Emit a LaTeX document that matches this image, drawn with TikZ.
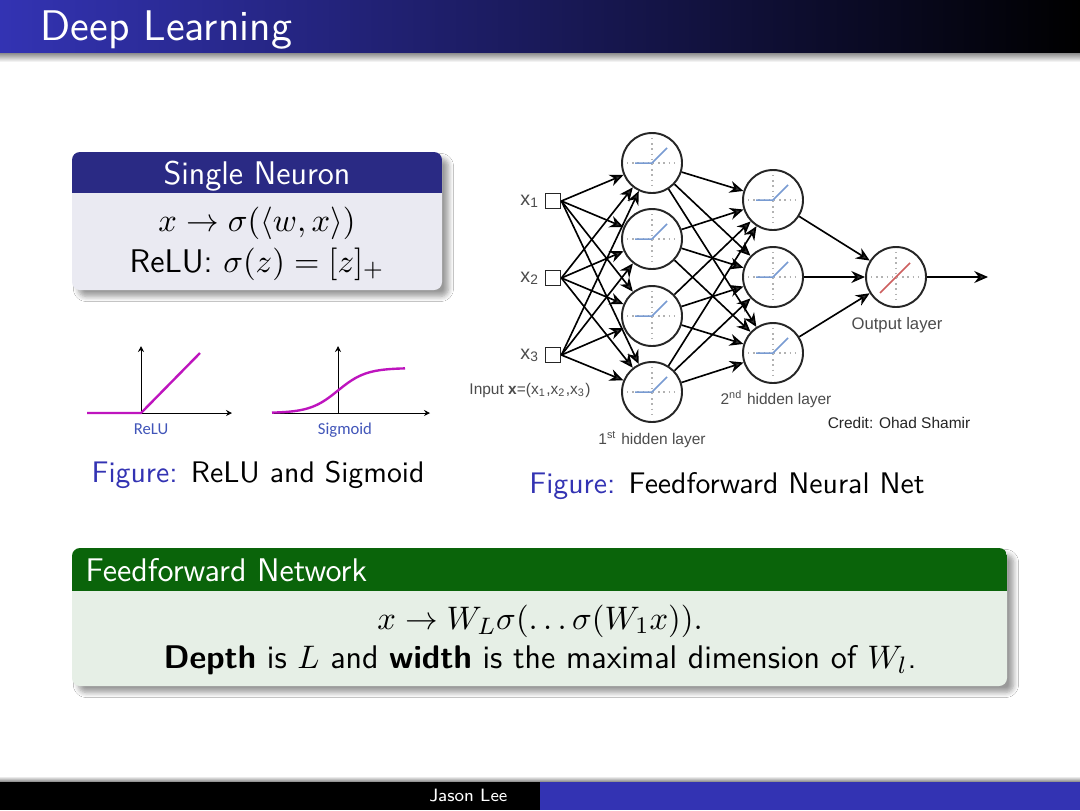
\documentclass[tikz,border=0pt]{standalone}
\usepackage{fontspec}
\newfontfamily\nnfont{Liberation Sans}
\newfontfamily\plotfont{Carlito}
\usetikzlibrary{arrows.meta, positioning, shadows.blur}

% one pixel of the slide
\newlength\pxu
\setlength\pxu{0.3359pt}

\definecolor{structblue}{RGB}{51,51,179}
\definecolor{neurontitle}{RGB}{42,42,132}
\definecolor{neuronbody}{RGB}{234,234,242}
\definecolor{ffntitle}{RGB}{10,100,10}
\definecolor{ffnbody}{RGB}{230,239,230}
\definecolor{plotpink}{RGB}{190,20,190}
\definecolor{plotblue}{RGB}{65,85,185}
\definecolor{relublue}{RGB}{120,155,210}
\definecolor{linred}{RGB}{205,95,95}

\begin{document}
\begin{tikzpicture}[
    x=\pxu, y=-\pxu,
    % Define node styles
    slidetitle/.style={anchor=base west, inner sep=0pt, text=white, font=\sffamily\fontsize{14.4}{17}\selectfont},
    footer/.style={anchor=base east, inner sep=0pt, text=white, font=\sffamily\fontsize{6}{7}\selectfont},
    blocktitle/.style={anchor=base, inner sep=0pt, text=white, font=\sffamily\fontsize{11}{13.6}\selectfont},
    blocktext/.style={anchor=base, inner sep=0pt, font=\sffamily\fontsize{11}{13.6}\selectfont},
    figcaption/.style={anchor=base, inner sep=0pt, font=\sffamily\fontsize{10}{12}\selectfont},
    plotlabel/.style={anchor=base, inner sep=0pt, text=plotblue, font=\plotfont\fontsize{5.6}{6.5}\selectfont},
    nnlabel/.style={anchor=base, inner sep=0pt, text=black!70, font=\nnfont\fontsize{5.2}{6}\selectfont},
    dotgrid/.style={gray!60, line width=0.45pt, dash pattern=on 0.45pt off 1.3pt},
    neuron/.style={circle, draw=black!85, line width=0.65pt, minimum size=60\pxu, inner sep=0pt},
    hiddenunit/.style={neuron, path picture={
        \begin{scope}[shift={(path picture bounding box.center)}]
            \draw[dotgrid] (-25,0) -- (25,0);
            \draw[dotgrid] (0,-25) -- (0,25);
            \draw[relublue, line width=0.5pt] (-17,0) -- (0,0) -- (15,-15);
        \end{scope}}},
    outunit/.style={neuron, path picture={
        \begin{scope}[shift={(path picture bounding box.center)}]
            \draw[dotgrid] (-25,0) -- (25,0);
            \draw[dotgrid] (0,-25) -- (0,25);
            \draw[linred, line width=0.5pt] (-16,16) -- (14,-14);
        \end{scope}}},
    inbox/.style={rectangle, draw=black!85, line width=0.6pt, minimum size=15\pxu, inner sep=0pt},
    nnlink/.style={-{Stealth[length=4.6pt, width=4pt]}, line width=0.55pt},
    plotaxis/.style={-{Stealth[length=2pt, width=2pt]}, line width=0.3pt},
    plotcurve/.style={plotpink, line width=0.8pt}
]
    \useasboundingbox (0,0) rectangle (1080,810);
    \fill[white] (0,0) rectangle (1080,810);

    % Title bar
    \shade[left color=structblue, right color=black] (0,0) rectangle (1080,53);
    \shade[top color=black!45, bottom color=white] (0,53) rectangle (1080,62);
    \node[slidetitle] (title) at (40,40) {Deep Learning};

    % Single Neuron block
    \fill[neuronbody, rounded corners=8\pxu, blur shadow={shadow blur steps=6}] (72,152) rectangle (442,290);
    \begin{scope}
        \clip[rounded corners=8\pxu] (72,152) rectangle (442,290);
        \fill[neurontitle] (72,152) rectangle (442,193);
    \end{scope}
    \node[blocktitle] (neuronhead) at (257,184) {Single Neuron};
    \node[blocktext] (neuronmap) at (257,231) {$x\to\sigma(\langle w,x\rangle)$};
    \node[blocktext] (neuronrelu) at (257,272) {ReLU: $\sigma(z)=[z]_+$};

    % ReLU and Sigmoid plots
    \draw[plotaxis] (87,413) -- (232,413);
    \draw[plotaxis] (141,413) -- (141,346);
    \draw[plotcurve] (87,413) -- (141,413) -- (200,353);
    \node[plotlabel] (relulabel) at (151,434) {ReLU};
    \draw[plotaxis] (272,413) -- (430,413);
    \draw[plotaxis] (338,413) -- (338,346);
    \draw[plotcurve] plot[domain=272:405, samples=60] (\x, {413-45/(1+exp(-(\x-338)/14))});
    \node[plotlabel] (siglabel) at (345,434) {Sigmoid};
    \node[figcaption] (leftcap) at (258,482) {{\color{structblue}Figure:} ReLU and Sigmoid};

    % Feedforward net: inputs, hidden layers, output
    \foreach \i/\y in {1/201, 2/278, 3/355} {
        \node[inbox] (in\i) at (553,\y) {};
        \node[nnlabel, anchor=base east, font=\nnfont\fontsize{6.6}{7}\selectfont] (xlabel\i) at (540,\y+4) {x\textsubscript{\i}};
    }
    \foreach \i/\y in {1/163, 2/239, 3/316, 4/392}
        \node[hiddenunit] (ha\i) at (652,\y) {};
    \foreach \i/\y in {1/200, 2/277, 3/353}
        \node[hiddenunit] (hb\i) at (773,\y) {};
    \node[outunit] (out) at (896,277) {};
    \coordinate (outend) at (988,277);

    % Draw arrows between layers
    \foreach \i in {1,2,3}
        \foreach \j in {1,2,3,4}
            \draw[nnlink] (in\i.east) -- (ha\j);
    \foreach \i in {1,2,3,4}
        \foreach \j in {1,2,3}
            \draw[nnlink] (ha\i) -- (hb\j);
    \foreach \i in {1,2,3}
        \draw[nnlink] (hb\i) -- (out);
    \draw[nnlink] (out) -- (outend);

    % Layer labels
    \node[nnlabel] (inlabel) at (530,394) {Input \textbf{x}=(x\textsubscript{1},x\textsubscript{2},x\textsubscript{3})};
    \node[nnlabel] (halabel) at (652,444) {1\textsuperscript{st} hidden layer};
    \node[nnlabel] (hblabel) at (776,404) {2\textsuperscript{nd} hidden layer};
    \node[nnlabel, font=\nnfont\fontsize{5.6}{6.5}\selectfont] (outlabel) at (897,329) {Output layer};
    \node[nnlabel, text=black!85] (credit) at (899,428) {Credit: Ohad Shamir};
    \node[figcaption] (rightcap) at (727,493) {{\color{structblue}Figure:} Feedforward Neural Net};

    % Feedforward Network block
    \fill[ffnbody, rounded corners=8\pxu, blur shadow={shadow blur steps=6}] (72,548) rectangle (1007,686);
    \begin{scope}
        \clip[rounded corners=8\pxu] (72,548) rectangle (1007,686);
        \fill[ffntitle] (72,548) rectangle (1007,591);
    \end{scope}
    \node[blocktitle, anchor=base west] (ffnhead) at (85,581) {Feedforward Network};
    \node[blocktext] (ffnmap) at (540,629) {$x\to W_L\sigma(\ldots\sigma(W_1x)).$};
    \node[blocktext] (ffndepth) at (540,668) {\textbf{Depth} is $L$ and \textbf{width} is the maximal dimension of $W_l$.};

    % Footer
    \shade[top color=white, bottom color=black!50] (0,776) rectangle (1080,782);
    \fill[black] (0,782) rectangle (540,810);
    \fill[structblue] (540,782) rectangle (1080,810);
    \node[footer] (author) at (508,801) {Jason Lee};
\end{tikzpicture}
\end{document}
